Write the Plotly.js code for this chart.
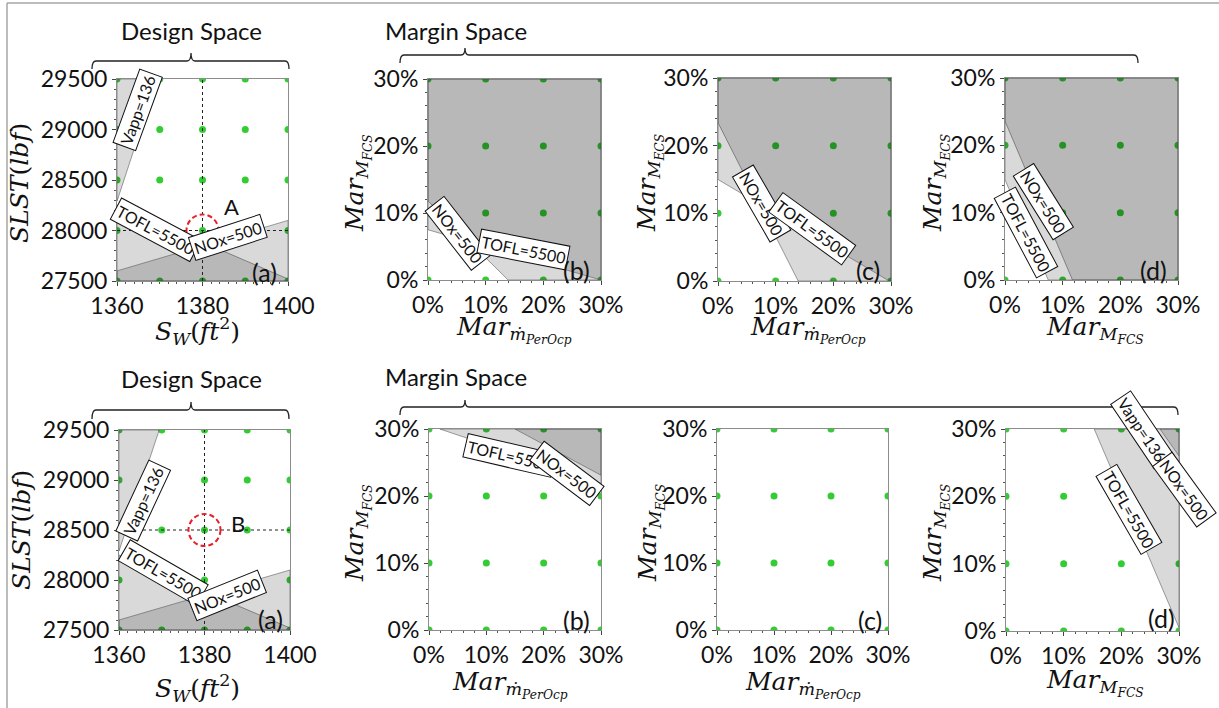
<!DOCTYPE html>
<html><head><meta charset="utf-8">
<script src="https://cdn.plot.ly/plotly-3.0.1.min.js"></script>
<style>html,body{margin:0;padding:0;background:#fff}#chart{width:1219px;height:708px}</style>
</head><body><div id="chart"></div>
<script>
// ---------------- data ----------------
const designSw = [1360, 1370, 1380, 1390, 1400];
const designSLST = [27500, 28000, 28500, 29000, 29500];
const marginGrid = [0, 10, 20, 30];
const swTicks = [1360, 1380, 1400];
const swTickText = ['1360', '1380', '1400'];
const slstTicks = [27500, 28000, 28500, 29000, 29500];
const slstTickText = ['27500', '28000', '28500', '29000', '29500'];
const marginTicks = [0, 10, 20, 30];
const marginTickText = ['0%', '10%', '20%', '30%'];

const pointNames = ['A', 'B'];
const pointSw = [1380, 1380];
const pointSLST = [28000, 28500];

// design-space constraint boundaries (same in both rows)
const vappSw = [1360, 1364, 1369.4];
const vappSLST = [28290, 28800, 29500];
const toflSw = [1360, 1400];
const toflSLST = [28250, 27520];
const noxSw = [1360, 1400];
const noxSLST = [27600, 28100];

// margin-space boundaries, top row (point A)
const tbNoxX = [0, 13.9], tbNoxY = [11.8, 0];
const tbToflX = [0, 29.8], tbToflY = [7.5, 0];
const tcNoxX = [0, 13.9], tcNoxY = [23.4, 0];
const tcToflX = [0, 29.7], tcToflY = [15.0, 0];
const tdNoxX = [0, 11.7], tdNoxY = [23.6, 0];
const tdToflX = [0, 7.5], tdToflY = [14.9, 0];
// margin-space boundaries, bottom row (point B)
const bbToflX = [1.9, 30], bbToflY = [30, 21.9];
const bbNoxX = [15, 30], bbNoxY = [30, 23.1];
const bdToflX = [15.3, 30], bdToflY = [30, 0.5];
const bdNoxX = [26.7, 30], bdNoxY = [30, 26];

// ---------------- layout helpers ----------------
const W = 1219, H = 708;
const PX = v => v / W, PY = v => 1 - v / H;
const SANS = 'Lato, "Open Sans", sans-serif';
const SERIF = '"DejaVu Serif", "Liberation Serif", serif';

// pixel boxes of the 8 plot areas [left, top, right, bottom]
const boxes = [
  [117, 79, 288, 281], [428, 79, 601, 280], [718, 78, 891, 281], [1005, 78, 1178, 280],
  [119, 430, 290, 630], [429, 429, 601, 630], [717, 429, 888, 630], [1006, 429, 1179, 631]
];
const isDesign = i => i === 0 || i === 4;
const xRange = i => isDesign(i) ? [designSw[0], designSw[designSw.length-1]] : [marginGrid[0], marginGrid[marginGrid.length-1]];
const yRange = i => isDesign(i) ? [designSLST[0], designSLST[designSLST.length-1]] : [marginGrid[0], marginGrid[marginGrid.length-1]];
const ax = i => i === 0 ? '' : String(i + 1);

const layout = {
  width: W, height: H, margin: {l: 0, r: 0, t: 0, b: 0},
  paper_bgcolor: '#fff', plot_bgcolor: '#fff', showlegend: false,
  font: {family: SANS, color: '#111'},
  shapes: [], annotations: []
};

boxes.forEach((b, i) => {
  const d = isDesign(i);
  const common = {
    showgrid: false, zeroline: false, showline: true, mirror: true,
    linecolor: '#8c8c8c', linewidth: 1, ticks: 'outside', ticklen: 4, tickcolor: '#444',
    tickfont: {family: SANS, size: 23, color: '#111'}, fixedrange: true, tickmode: 'array'
  };
  layout['xaxis' + ax(i)] = Object.assign({}, common, {
    domain: [PX(b[0]), PX(b[2])], range: xRange(i), anchor: 'y' + ax(i),
    tickvals: d ? swTicks : marginTicks, ticktext: d ? swTickText : marginTickText,
    minor: {tickmode: 'linear', tick0: xRange(i)[0], dtick: 2, ticks: 'outside', ticklen: 2, tickcolor: '#555'}
  });
  layout['yaxis' + ax(i)] = Object.assign({}, common, {
    domain: [PY(b[3]), PY(b[1])], range: yRange(i), anchor: 'x' + ax(i),
    tickvals: d ? slstTicks : marginTicks, ticktext: d ? slstTickText : marginTickText,
    minor: {tickmode: 'linear', tick0: yRange(i)[0], dtick: d ? 100 : 2, ticks: 'outside', ticklen: 2, tickcolor: '#555'}
  });
});

// ---------------- traces ----------------
const traces = [];
// grid points (drawn first, shading goes over them)
boxes.forEach((b, i) => {
  const gx = isDesign(i) ? designSw : marginGrid;
  const gy = isDesign(i) ? designSLST : marginGrid;
  const xs = [], ys = [];
  gy.forEach(y => gx.forEach(x => { xs.push(x); ys.push(y); }));
  traces.push({type: 'scatter', mode: 'markers', x: xs, y: ys, xaxis: 'x' + ax(i), yaxis: 'y' + ax(i),
    marker: {color: '#33cc33', size: 7}, hoverinfo: 'skip'});
});

function region(i, bx, by, corners) {
  const xr = xRange(i), yr = yRange(i);
  const map = {tl: [xr[0], yr[1]], tr: [xr[1], yr[1]], bl: [xr[0], yr[0]], br: [xr[1], yr[0]]};
  const xs = bx.slice(), ys = by.slice();
  corners.forEach(c => { xs.push(map[c][0]); ys.push(map[c][1]); });
  xs.push(bx[0]); ys.push(by[0]);
  traces.push({type: 'scatter', mode: 'lines', x: xs, y: ys, fill: 'toself',
    fillcolor: 'rgba(0,0,0,0.15)', line: {color: 'rgba(80,80,80,0.55)', width: 1},
    xaxis: 'x' + ax(i), yaxis: 'y' + ax(i), hoverinfo: 'skip'});
}
[0, 4].forEach(i => {
  region(i, vappSw, vappSLST, ['tl']);
  region(i, toflSw, toflSLST, ['br', 'bl']);
  region(i, noxSw, noxSLST, ['br', 'bl']);
});
region(1, tbNoxX, tbNoxY, ['br', 'tr', 'tl']);
region(1, tbToflX, tbToflY, ['br', 'tr', 'tl']);
region(2, tcNoxX, tcNoxY, ['br', 'tr', 'tl']);
region(2, tcToflX, tcToflY, ['br', 'tr', 'tl']);
region(3, tdNoxX, tdNoxY, ['br', 'tr', 'tl']);
region(3, tdToflX, tdToflY, ['br', 'tr', 'tl']);
region(5, bbToflX, bbToflY, ['tr']);
region(5, bbNoxX, bbNoxY, ['tr']);
region(7, bdToflX, bdToflY, ['tr']);
region(7, bdNoxX, bdNoxY, ['tr']);

// selected design point: crosshair + dashed circle
[0, 4].forEach((i, k) => {
  const xr = xRange(i), yr = yRange(i), b = boxes[i];
  traces.push({type: 'scatter', mode: 'lines', x: [pointSw[k], pointSw[k]], y: yr,
    line: {color: '#222', width: 1, dash: 'dot'}, xaxis: 'x' + ax(i), yaxis: 'y' + ax(i), hoverinfo: 'skip'});
  traces.push({type: 'scatter', mode: 'lines', x: xr, y: [pointSLST[k], pointSLST[k]],
    line: {color: '#222', width: 1, dash: 'dot'}, xaxis: 'x' + ax(i), yaxis: 'y' + ax(i), hoverinfo: 'skip'});
  const rx = 16 * (xr[1] - xr[0]) / (b[2] - b[0]);
  const ry = 16 * (yr[1] - yr[0]) / (b[3] - b[1]);
  layout.shapes.push({type: 'circle', xref: 'x' + ax(i), yref: 'y' + ax(i),
    x0: pointSw[k] - rx, x1: pointSw[k] + rx, y0: pointSLST[k] - ry, y1: pointSLST[k] + ry,
    line: {color: '#e8202a', width: 2, dash: '5px,3px'}});
});

// ---------------- labels ----------------
function box(i, text, x, y, angle, extra) {
  layout.annotations.push(Object.assign({xref: 'x' + ax(i), yref: 'y' + ax(i), x: x, y: y, text: text,
    showarrow: false, textangle: angle, bgcolor: '#fff', bordercolor: '#111', borderwidth: 1, borderpad: 2,
    font: {family: SANS, size: 16, color: '#111'}}, extra || {}));
}
function plain(i, text, x, y, size) {
  layout.annotations.push({xref: 'x' + ax(i), yref: 'y' + ax(i), x: x, y: y, text: text, showarrow: false,
    font: {family: SANS, size: size, color: '#111'}});
}
// top (a)
box(0, 'Vapp=136', 1364.7, 29193, -70);
box(0, 'TOFL=5500', 1368.9, 28005, 28);
box(0, 'NOx=500', 1385.9, 27926, -18);
plain(0, pointNames[0], 1386.8, 28233, 22);
plain(0, '(a)', 1394.4, 27590, 25);
// top (b)
box(1, 'NOx=500', 5.2, 7.0, 52);
box(1, 'TOFL=5500', 16.6, 4.6, 11);
plain(1, '(b)', 25.8, 1.5, 25);
// top (c)
box(2, 'NOx=500', 7.6, 11.5, 60);
box(2, 'TOFL=5500', 16.3, 7.8, 36);
plain(2, '(c)', 26, 1.6, 25);
// top (d)
box(3, 'NOx=500', 6.6, 11.6, 58);
box(3, 'TOFL=5500', 3.6, 7.0, 62);
plain(3, '(d)', 25.7, 1.5, 25);
// bottom (a)
box(4, 'Vapp=136', 1365.6, 28800, -65);
box(4, 'TOFL=5500', 1370.3, 28080, 30);
box(4, 'NOx=500', 1385.2, 27850, -22);
plain(4, pointNames[1], 1387.9, 28570, 22);
plain(4, '(a)', 1395.5, 27610, 25);
// bottom (b)
box(5, 'TOFL=5500', 14.1, 26.1, 13);
box(5, 'NOx=500', 24.1, 23.4, 37);
plain(5, '(b)', 25.8, 1.5, 25);
// bottom (c)
plain(6, '(c)', 26.8, 1.5, 25);
// bottom (d)
box(7, 'TOFL=5500', 21.3, 18.0, 60);
box(7, 'Vapp=136', 23.6, 29.9, 56);
box(7, 'NOx=500', 30, 20.95, 54, {xshift: 5});
plain(7, '(d)', 27.0, 1.9, 25);

// axis titles (paper positions)
function title(text, x, y, rot) {
  layout.annotations.push({xref: 'paper', yref: 'paper', x: PX(x), y: PY(y), text: text, showarrow: false,
    textangle: rot ? -90 : 0, xanchor: 'center', yanchor: 'middle',
    font: {family: SERIF, size: 25, color: '#111'}});
}
const tSLST = '<i>SLST</i>(<i>lbf</i>)';
const tSW = '<i>S<sub>W</sub></i>(<i>ft</i><sup>2</sup>)';
const tFCS = '<i>Mar<sub>M<sub>FCS</sub></sub></i>';
const tECS = '<i>Mar<sub>M<sub>ECS</sub></sub></i>';
const tMD = '<i>Mar<sub>ṁ<sub>PerOcp</sub></sub></i>';
title(tSLST, 20, 183, true); title(tSW, 197, 331, false);
title(tFCS, 358, 183, true); title(tMD, 514, 329, false);
title(tECS, 650, 183, true); title(tMD, 808, 329, false);
title(tECS, 936, 183, true); title(tFCS, 1095, 329, false);
title(tSLST, 21, 530, true); title(tSW, 197, 688, false);
title(tFCS, 357, 533, true); title(tMD, 510, 684, false);
title(tECS, 650, 533, true); title(tMD, 803, 684, false);
title(tECS, 935, 533, true); title(tFCS, 1095, 682, false);

// section headers and braces
function header(text, x, y, anchor) {
  layout.annotations.push({xref: 'paper', yref: 'paper', x: PX(x), y: PY(y), text: text, showarrow: false,
    xanchor: anchor, yanchor: 'middle', font: {family: SANS, size: 24, color: '#111'}});
}
header('Design Space', 191, 30, 'center');
header('Margin Space', 383, 30, 'left');
header('Design Space', 191, 378, 'center');
header('Margin Space', 383, 377, 'left');

function brace(x0, x1, xm, y, yEnd, yMid) {
  const r = 4;
  const p = (x, yy) => PX(x) + ',' + PY(yy);
  const path = 'M' + p(x0, yEnd) + ' Q' + p(x0, y) + ' ' + p(x0 + r, y) + ' L' + p(xm - r, y) +
    ' Q' + p(xm, y) + ' ' + p(xm, yMid) + ' Q' + p(xm, y) + ' ' + p(xm + r, y) + ' L' + p(x1 - r, y) +
    ' Q' + p(x1, y) + ' ' + p(x1, yEnd);
  layout.shapes.push({type: 'path', xref: 'paper', yref: 'paper', path: path, line: {color: '#222', width: 1.3}});
}
brace(92, 289, 191, 61, 69, 53);
brace(400, 1138, 465, 55, 63, 48);
brace(92, 289, 191, 410, 419, 402);
brace(400, 1178, 465, 407, 415, 400);

// figure frame (left and top edges)
layout.shapes.push({type: 'line', xref: 'paper', yref: 'paper', x0: PX(7), x1: PX(7), y0: PY(3), y1: PY(708),
  line: {color: '#a6a6a6', width: 1.5}});
layout.shapes.push({type: 'line', xref: 'paper', yref: 'paper', x0: PX(7), x1: PX(1219), y0: PY(3), y1: PY(3),
  line: {color: '#a6a6a6', width: 1.5}});

Plotly.newPlot('chart', traces, layout, {staticPlot: true, displayModeBar: false});
</script></body></html>
